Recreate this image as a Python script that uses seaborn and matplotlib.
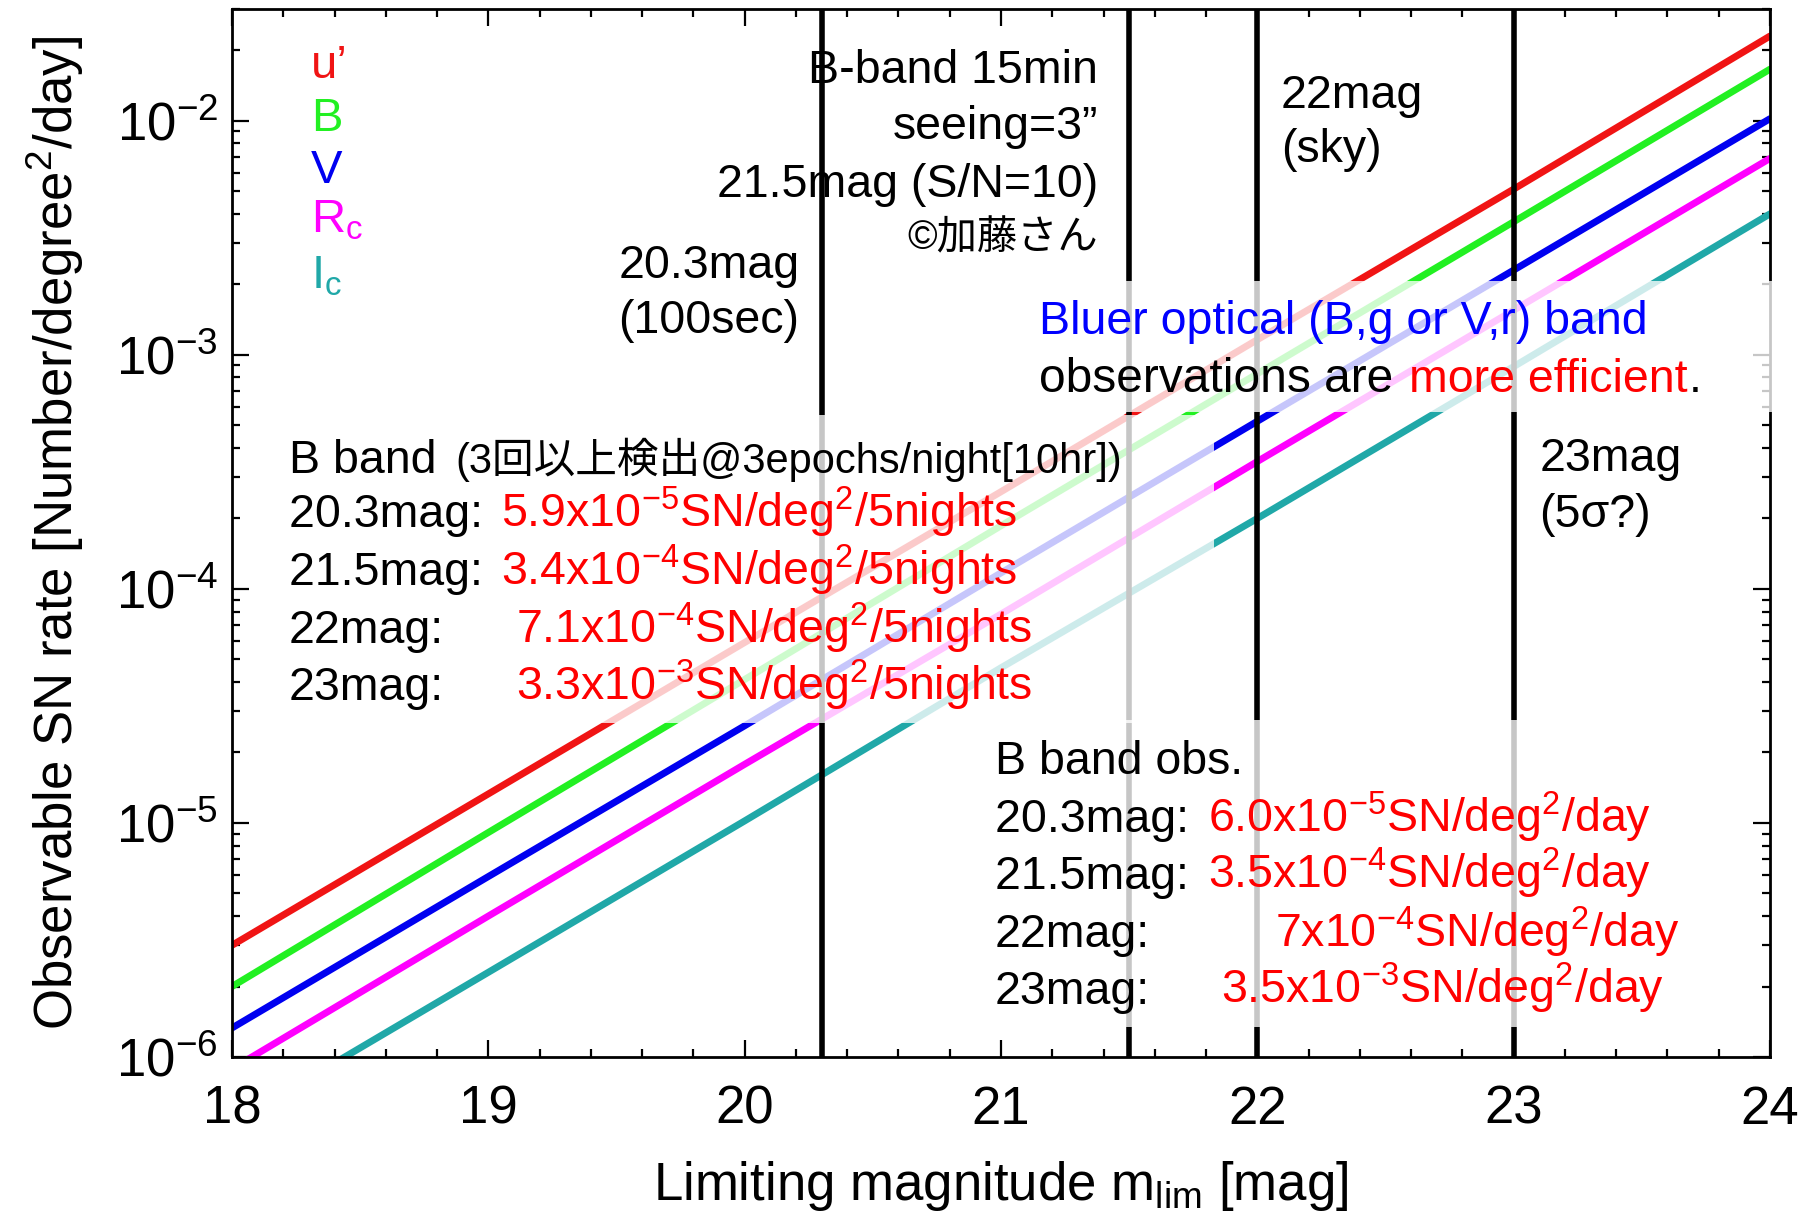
import matplotlib
matplotlib.use("Agg")
import matplotlib.pyplot as plt
import pandas as pd
import seaborn as sns
from matplotlib.patches import Rectangle
from matplotlib.ticker import LogLocator, MultipleLocator, NullFormatter

# limiting magnitude and observable SN rate per band
mag = [18, 19, 20, 21, 22, 23, 24]
rate_u = [3.0e-6, 1.33e-5, 5.9e-5, 2.6e-4, 1.16e-3, 5.1e-3, 2.3e-2]
rate_B = [2.0e-6, 9.1e-6, 4.1e-5, 1.86e-4, 8.3e-4, 3.7e-3, 1.66e-2]
rate_V = [1.33e-6, 5.9e-6, 2.6e-5, 1.17e-4, 5.2e-4, 2.3e-3, 1.02e-2]
rate_Rc = [8.9e-7, 4.0e-6, 1.78e-5, 7.8e-5, 3.5e-4, 1.55e-3, 6.9e-3]
rate_Ic = [5.2e-7, 2.3e-6, 1.02e-5, 4.6e-5, 2.0e-4, 8.9e-4, 4.0e-3]

bands = ["u'", "B", "V", "Rc", "Ic"]
band_labels = ["u\u2019", "B", "V", r"R$_{\mathregular{c}}$", r"I$_{\mathregular{c}}$"]
band_colors = ["#f01414", "#22f022", "#0000f0", "#ff00ff", "#20a8a8"]

# vertical lines: limiting magnitudes of the B band setups
limit_mags = [20.3, 21.5, 22.0, 23.0]

# rates quoted in the text boxes
night_labels = ["20.3mag: ", "21.5mag: ", "22mag:", "23mag:"]
night_rates = [r"$\mathregular{5.9x10^{-5}SN/deg^{2}/5nights}$",
               r"$\mathregular{3.4x10^{-4}SN/deg^{2}/5nights}$",
               r"$\mathregular{7.1x10^{-4}SN/deg^{2}/5nights}$",
               r"$\mathregular{3.3x10^{-3}SN/deg^{2}/5nights}$"]
day_labels = ["20.3mag: ", "21.5mag: ", "22mag:", "23mag:"]
day_rates = [r"$\mathregular{6.0x10^{-5}SN/deg^{2}/day}$",
             r"$\mathregular{3.5x10^{-4}SN/deg^{2}/day}$",
             r"$\mathregular{7x10^{-4}SN/deg^{2}/day}$",
             r"$\mathregular{3.5x10^{-3}SN/deg^{2}/day}$"]

rates = [rate_u, rate_B, rate_V, rate_Rc, rate_Ic]
df = pd.DataFrame({
    "mag": mag * len(bands),
    "rate": [r for rr in rates for r in rr],
    "band": [b for b in bands for _ in mag],
})

sns.set_style("ticks")
plt.rcParams["font.family"] = ["Liberation Sans", "Noto Sans CJK JP"]
plt.rcParams["mathtext.fontset"] = "custom"
plt.rcParams["mathtext.rm"] = "Liberation Sans"
plt.rcParams["mathtext.it"] = "Liberation Sans:italic"
plt.rcParams["mathtext.bf"] = "Liberation Sans:bold"
plt.rcParams["mathtext.default"] = "regular"
for key in ["text.color", "axes.labelcolor", "xtick.color", "ytick.color", "axes.edgecolor"]:
    plt.rcParams[key] = "black"

fig = plt.figure(figsize=(18.18, 12.19), dpi=100)
ax = fig.add_axes([0.1276, 0.1329, 0.846, 0.8597])

sns.lineplot(data=df, x="mag", y="rate", hue="band", hue_order=bands,
             palette=dict(zip(bands, band_colors)), linewidth=5,
             legend=False, ax=ax, zorder=2)
for m in limit_mags:
    ax.axvline(m, color="black", linewidth=4, zorder=3)

ax.set_yscale("log")
ax.set_xlim(18, 24)
ax.set_ylim(1e-6, 3e-2)
ax.xaxis.set_major_locator(MultipleLocator(1))
ax.xaxis.set_minor_locator(MultipleLocator(0.2))
ax.yaxis.set_major_locator(LogLocator(base=10))
ax.yaxis.set_minor_locator(LogLocator(base=10, subs=range(2, 10)))
ax.yaxis.set_minor_formatter(NullFormatter())
ax.tick_params(which="both", direction="in", top=True, right=True, width=1.6)
ax.tick_params(which="major", length=12, labelsize=38)
ax.tick_params(axis="x", which="major", pad=20)
ax.tick_params(axis="y", which="major", pad=10)
ax.tick_params(which="minor", length=6)
for s in ax.spines.values():
    s.set_linewidth(2)

ax.set_xlabel(r"Limiting magnitude m$_{\mathregular{lim}}$ [mag]", fontsize=38)
ax.set_ylabel(r"Observable SN rate [Number/degree$^{\mathregular{2}}$/day]", fontsize=38)
ax.xaxis.set_label_coords(0.5, -0.097)
ax.yaxis.set_label_coords(-0.095, 0.5)

# translucent white boxes behind the notes
for x0, y0, w, h in [(0.0264, 0.3186, 0.6119, 0.2942),
                     (0.5163, 0.615, 0.5079, 0.125),
                     (0.4838, 0.0288, 0.4981, 0.2931)]:
    ax.add_patch(Rectangle((x0, y0), w, h, transform=ax.transAxes,
                           facecolor="white", edgecolor="none", alpha=0.78,
                           clip_on=False, zorder=4))


def note(x, y, s, color="black", size=33.5, ha="left"):
    ax.text(x, y, s, transform=ax.transAxes, color=color, fontsize=size,
            ha=ha, va="baseline", zorder=6)


# band legend
for lab, col, y in zip(band_labels, band_colors, [0.934, 0.884, 0.834, 0.787, 0.733]):
    note(0.0512, y, lab, color=col, size=34)

note(0.563, 0.929, "B-band 15min", ha="right")
note(0.563, 0.876, "seeing=3\u201d", ha="right")
note(0.563, 0.821, "21.5mag (S/N=10)", ha="right")
note(0.563, 0.771, "\u00a9加藤さん", ha="right", size=29)
note(0.369, 0.743, "20.3mag", ha="right")
note(0.369, 0.691, "(100sec)", ha="right")
note(0.682, 0.906, "22mag")
note(0.682, 0.854, "(sky)")
note(0.850, 0.559, "23mag")
note(0.850, 0.506, "(5\u03c3?)")

note(0.525, 0.690, "Bluer optical (B,g or V,r) band", color="blue")
note(0.525, 0.635, "observations are", size=34.5)
note(0.765, 0.635, "more efficient", color="red")
note(0.947, 0.635, ".")

note(0.0369, 0.5575, "B band")
note(0.1454, 0.5575, "(3回以上検出@3epochs/night[10hr])", size=30)
for lab, val, y, xv in zip(night_labels, night_rates, [0.5055, 0.450, 0.395, 0.3407],
                           [0.1748, 0.1748, 0.1846, 0.1846]):
    note(0.0369, y, lab)
    note(xv, y, val, color="red")

note(0.4959, 0.270, "B band obs.")
for lab, val, y, xv in zip(day_labels, day_rates, [0.2146, 0.1604, 0.105, 0.0509],
                           [0.6345, 0.6345, 0.678, 0.6428]):
    note(0.4959, y, lab)
    note(xv, y, val, color="red")

fig.savefig("out.png", dpi=100)
